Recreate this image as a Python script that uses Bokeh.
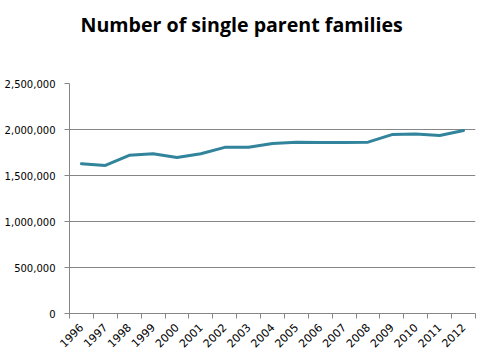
import numpy as np
from bokeh.plotting import figure
from bokeh.models import FixedTicker, NumeralTickFormatter, Range1d, Title
from bokeh.embed import file_html
from bokeh.resources import INLINE

years = ["1996", "1997", "1998", "1999", "2000", "2001", "2002", "2003", "2004",
         "2005", "2006", "2007", "2008", "2009", "2010", "2011", "2012"]
families = [1628000, 1609000, 1719000, 1737000, 1695000, 1737000, 1806000, 1806000,
            1848000, 1862000, 1858000, 1858000, 1862000, 1945000, 1952000, 1935000, 1990000]
y_ticks = [0, 500000, 1000000, 1500000, 2000000, 2500000]
title_text = "Number of single parent families"

x = np.arange(len(years))

p = figure(width=485, height=359, output_backend="svg", toolbar_location=None,
           x_range=Range1d(-0.5, len(years) - 0.5), y_range=Range1d(0, 2500000),
           min_border_left=69, min_border_right=10, min_border_top=83, min_border_bottom=46)
p.outline_line_color = None
p.background_fill_color = "white"
p.border_fill_color = "white"

# blank spacer title next to the frame, then the real title above it
p.add_layout(Title(text=" ", text_font_size="10px", standoff=28), "above")
p.add_layout(Title(text=title_text, text_font="Open Sans", text_font_style="bold",
                   text_font_size="19.6px", text_color="black", align="left",
                   offset=11, standoff=10), "above")

p.line(x, families, line_color="#31849B", line_width=3, line_join="round", line_cap="round")

# x axis
p.xaxis.ticker = FixedTicker(ticks=list(x), minor_ticks=list(np.arange(len(years) + 1) - 0.5))
p.xaxis.major_label_overrides = {int(i): y for i, y in zip(x, years)}
p.xaxis.major_label_orientation = np.pi / 4
p.xaxis.major_tick_line_color = None
p.xaxis.minor_tick_line_color = "#868686"
p.xaxis.minor_tick_in = 0
p.xaxis.minor_tick_out = 5
p.xaxis.axis_line_color = "#868686"
p.xaxis.major_label_text_font = "DejaVu Sans"
p.xaxis.major_label_text_font_size = "11px"
p.xaxis.major_label_text_color = "black"
p.xaxis.major_label_standoff = 6

# y axis
p.yaxis.ticker = FixedTicker(ticks=y_ticks)
p.yaxis.formatter = NumeralTickFormatter(format="0,0")
p.yaxis.axis_line_color = "#868686"
p.yaxis.major_tick_line_color = "#868686"
p.yaxis.major_tick_in = 0
p.yaxis.major_tick_out = 5
p.yaxis.minor_tick_line_color = None
p.yaxis.major_label_text_font = "DejaVu Sans"
p.yaxis.major_label_text_font_size = "10px"
p.yaxis.major_label_text_color = "black"
p.yaxis.major_label_standoff = 9

p.xgrid.grid_line_color = None
p.ygrid.grid_line_color = "#868686"
p.ygrid.grid_line_width = 1

open("out.html", "w").write(file_html(p, INLINE))
